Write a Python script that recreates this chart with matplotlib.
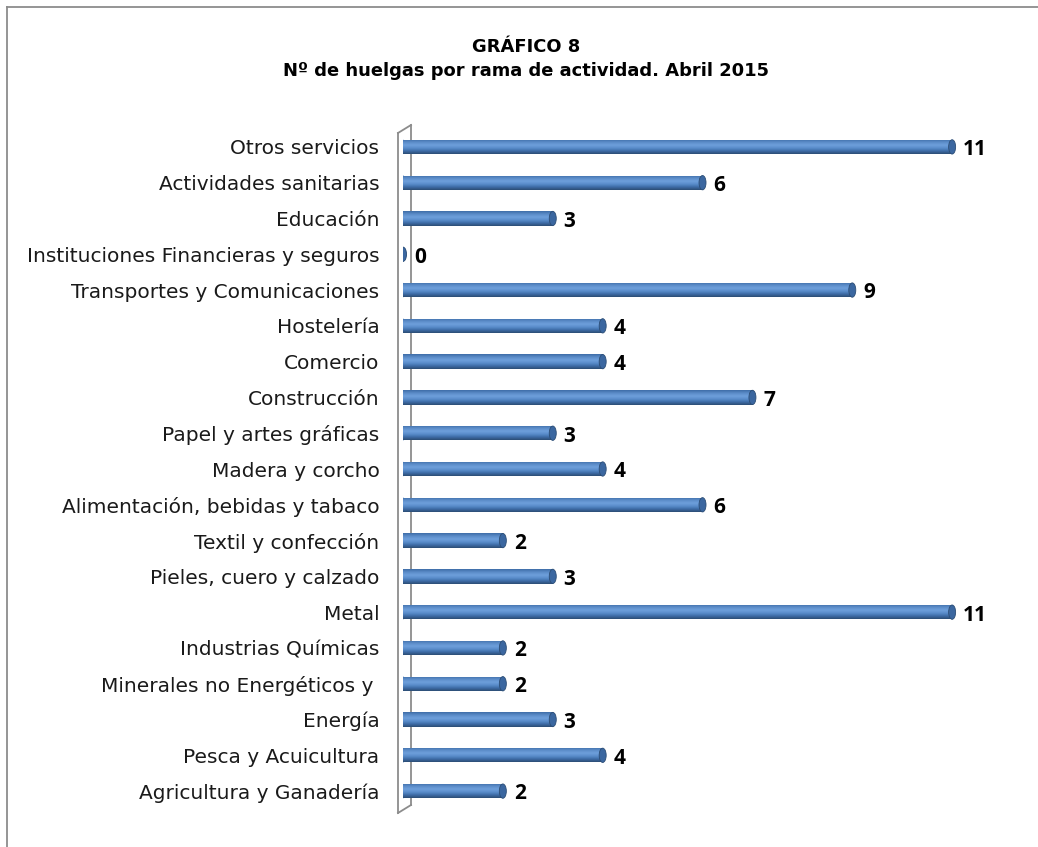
import matplotlib
matplotlib.use("Agg")
import matplotlib.pyplot as plt
import numpy as np
from matplotlib.lines import Line2D
from matplotlib.patches import Ellipse

categories = [
    "Agricultura y Ganadería",
    "Pesca y Acuicultura",
    "Energía",
    "Minerales no Energéticos y ",
    "Industrias Químicas",
    "Metal",
    "Pieles, cuero y calzado",
    "Textil y confección",
    "Alimentación, bebidas y tabaco",
    "Madera y corcho",
    "Papel y artes gráficas",
    "Construcción",
    "Comercio",
    "Hostelería",
    "Transportes y Comunicaciones",
    "Instituciones Financieras y seguros",
    "Educación",
    "Actividades sanitarias",
    "Otros servicios",
]
values = [2, 4, 3, 2, 2, 11, 3, 2, 6, 4, 3, 7, 4, 4, 9, 0, 3, 6, 11]

title = "GRÁFICO 8\nNº de huelgas por rama de actividad. Abril 2015"

W, H = 1038, 847
fig = plt.figure(figsize=(W / 100, H / 100), dpi=100)
ax = fig.add_axes([403 / W, (H - 809) / H, (1027 - 403) / W, (809 - 129) / H])

y = np.arange(len(categories))
bar_h = 0.40
bars = ax.barh(y, values, height=bar_h, color="#4F81BD", edgecolor="none", zorder=2)

# cylinder shading: vertical gradient clipped to each bar
grad = np.linspace(0, 1, 64).reshape(-1, 1)
cmap = matplotlib.colors.LinearSegmentedColormap.from_list(
    "cyl", ["#2C4D75", "#3E6CA6", "#5A8DCB", "#6E9FDB", "#5B8CC8", "#3F6DA8"]
)
for rect, v, yy in zip(bars, values, y):
    if v <= 0:
        continue
    im = ax.imshow(grad, cmap=cmap, aspect="auto", origin="lower",
                   extent=(0, v, yy - bar_h / 2, yy + bar_h / 2), zorder=3)
    im.set_clip_path(rect)

cap_w = 0.14
for v, yy in zip(values, y):
    ax.add_patch(Ellipse((v, yy), cap_w, bar_h, facecolor="#3B67A0",
                         edgecolor="#2C4D75", linewidth=0.6, zorder=4))
    ax.add_patch(Ellipse((0, yy), cap_w, bar_h, facecolor="#4F81BD",
                         edgecolor="none", zorder=1.5))
    ax.text(v + 0.22, yy - 0.08, str(v), va="center", ha="left", fontsize=15,
            fontweight="bold", family="Open Sans", color="black", zorder=5)

ax.set_xlim(0, 12.5)
ax.set_ylim(-0.5, len(categories) - 0.5)
ax.set_yticks(y)
ax.set_yticklabels(categories, family="DejaVu Sans", fontsize=14.5, color="#1a1a1a")
ax.tick_params(axis="y", length=0, pad=17)
ax.set_xticks([])
for s in ax.spines.values():
    s.set_visible(False)
ax.patch.set_alpha(0)

# 3D wall outline
wall = "#8C8C8C"
def fl(xs, ys):
    fig.add_artist(Line2D([x / W for x in xs], [1 - v / H for v in ys],
                          color=wall, linewidth=1.3, transform=fig.transFigure, zorder=0))
fl([398, 398], [133, 813])
fl([411, 411], [125, 805])
fl([398, 411], [133, 125])
fl([398, 411], [813, 805])

# chart frame (top and left)
fl([7, 7], [7, H])
fl([7, W], [7, 7])

fig.text(526 / W, 1 - 59 / H, title, ha="center", va="center", fontsize=12.9,
         fontweight="bold", family="DejaVu Sans", linespacing=1.5)

fig.savefig("out.png", dpi=100)
